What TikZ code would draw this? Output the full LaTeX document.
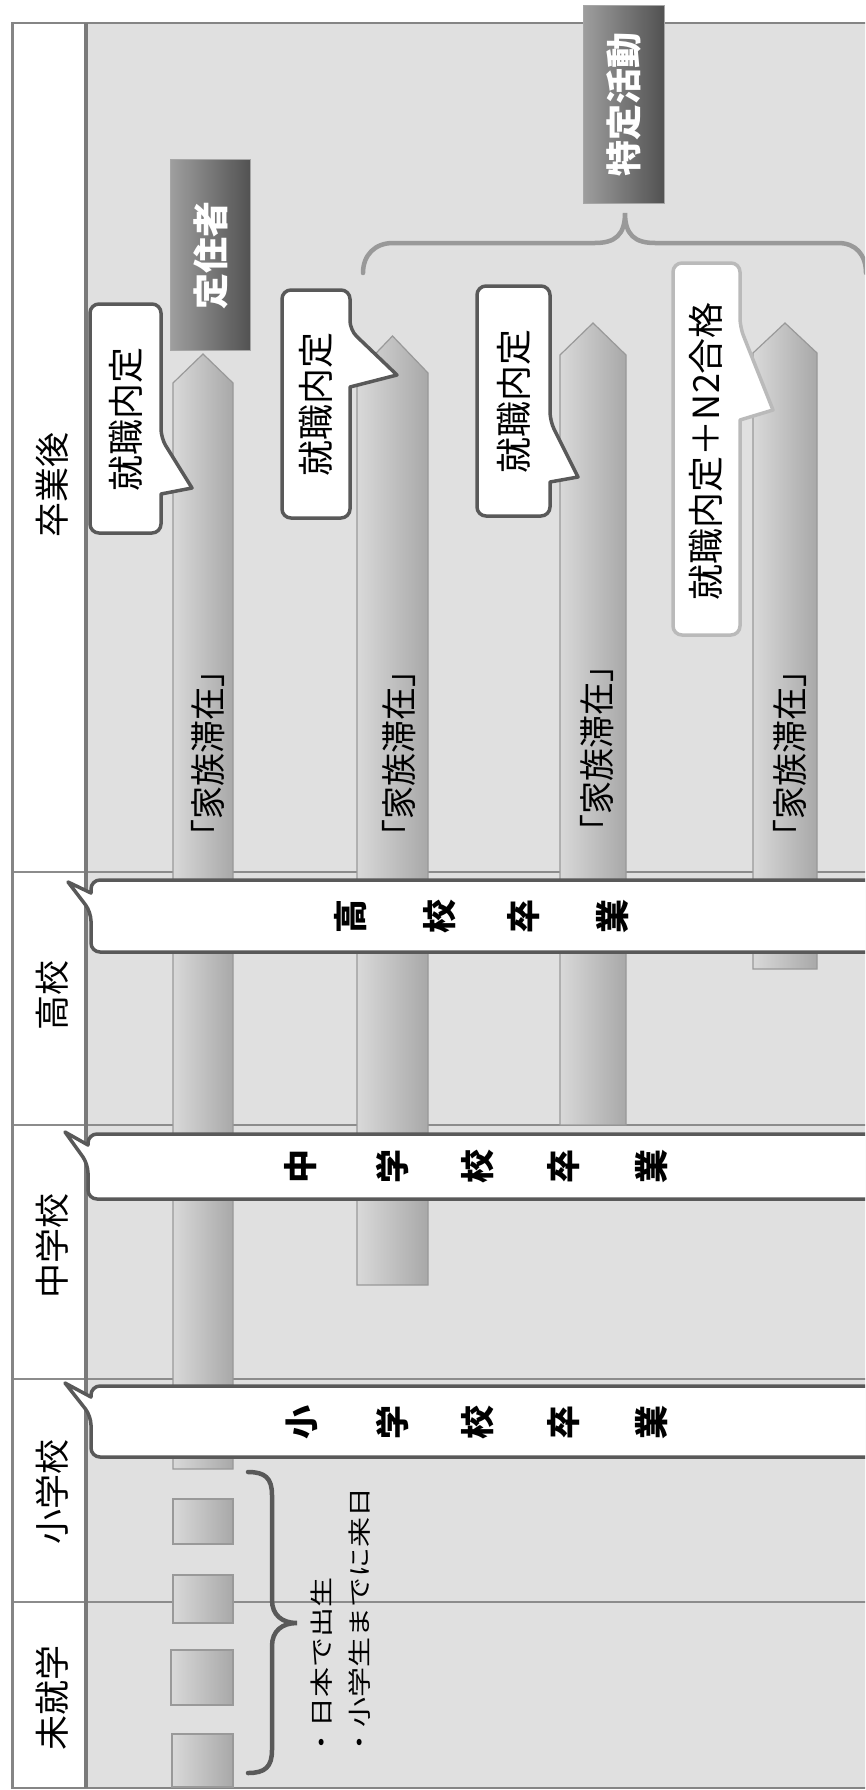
\documentclass[tikz,border=0pt]{standalone}
\usepackage{fontspec}
\newfontfamily\jp{Noto Sans CJK JP}
\begin{document}
\begin{tikzpicture}[x=1pt,y=-1pt,
  rowline/.style={draw=black!45, line width=2pt},
  frameline/.style={draw=black!48, line width=2.5pt},
  sepline/.style={draw=black!52, line width=3.5pt},
  bar/.style={draw=black!40, line width=1.2pt, left color=black!15, middle color=black!11, right color=black!34},
  callout/.style={draw=black!65, line width=3.5pt, fill=white, line join=round},
  callout4/.style={draw=black!27, line width=3.5pt, fill=white, line join=round},
  darkbox/.style={draw=black!35, line width=1pt, left color=black!38, right color=black!68},
  bigbrace/.style={draw=black!40, line width=4.5pt, line cap=round},
  smallbrace/.style={draw=black!65, line width=4.5pt, line cap=round},
  headtxt/.style={rotate=90, inner sep=0pt, font=\jp\fontsize{35pt}{40pt}\selectfont},
  stay/.style={rotate=90, inner sep=0pt, font=\jp\fontsize{33pt}{38pt}\selectfont},
  jobtxt/.style={rotate=90, inner sep=0pt, font=\jp\fontsize{36pt}{40pt}\selectfont},
  wtxt/.style={rotate=90, inner sep=0pt, text=white, font=\jp\bfseries\fontsize{36pt}{40pt}\selectfont},
  gradtxt/.style={rotate=90, inner sep=0pt, font=\jp\bfseries\fontsize{34pt}{38pt}\selectfont},
  notetxt/.style={rotate=90, inner sep=0pt, align=left, font=\jp\fontsize{30pt}{38pt}\selectfont}
]
\useasboundingbox (0,0) rectangle (865,1790);
\clip (0,0) rectangle (865,1790);
% backgrounds
\fill[white] (0,0) rectangle (865,1790);
\fill[black!12] (86,23) rectangle (870,1788);
% row lines
\foreach \yy in {872,1125,1379,1602} {\draw[rowline] (12,\yy) -- (870,\yy);}
% frame
\draw[frameline] (870,23) -- (12.5,23) -- (12.5,1788) -- (870,1788);
\draw[sepline] (86,23) -- (86,1788);
% bars
\path[bar] (173,1469) -- (173,383) -- (203,354) -- (233,383) -- (233,1469) -- cycle;
\path[bar] (357,1285) -- (357,373) -- (392.5,336) -- (428,373) -- (428,1285) -- cycle;
\path[bar] (560,1125) -- (560,355) -- (593,323) -- (626,355) -- (626,1125) -- cycle;
\path[bar] (753,969) -- (753,353) -- (785,323) -- (817,353) -- (817,969) -- cycle;
% squares
\path[bar] (173,1499) rectangle (233,1544);
\path[bar] (173,1575) rectangle (233,1623);
\path[bar] (171,1650) rectangle (233,1705);
\path[bar] (172,1734) rectangle (233,1787);
% school callouts
\path[callout] (400,880) [rounded corners=9pt] -- (885,880) -- (885,952) -- (91,952) -- (91,912) [sharp corners] -- (68,882) -- (91,893) [rounded corners=9pt] -- (91,880) -- cycle;
\path[callout] (400,1134) [rounded corners=9pt] -- (885,1134) -- (885,1199) -- (88,1199) -- (88,1164) [sharp corners] -- (65,1132) -- (88,1145) [rounded corners=9pt] -- (88,1134) -- cycle;
\path[callout] (400,1386) [rounded corners=9pt] -- (885,1386) -- (885,1457) -- (91,1457) -- (91,1416) [sharp corners] -- (65,1383) -- (91,1397) [rounded corners=9pt] -- (91,1386) -- cycle;
% job callouts
\path[callout] (90,400) [rounded corners=9pt] -- (90,304) -- (161,304) -- (161,438) [sharp corners] -- (192,488) -- (161,494) [rounded corners=9pt] -- (161,533) -- (90,533) -- cycle;
\path[callout] (282,400) [rounded corners=9pt] -- (282,290) -- (350,290) -- (350,330) [sharp corners] -- (397,375) -- (350,387) [rounded corners=9pt] -- (350,518) -- (282,518) -- cycle;
\path[callout] (477,400) [rounded corners=9pt] -- (477,286) -- (550,286) -- (550,421) [sharp corners] -- (578,477) -- (550,482) [rounded corners=9pt] -- (550,516) -- (477,516) -- cycle;
\path[callout4] (673,450) [rounded corners=9pt] -- (673,263) -- (740,263) -- (740,327) [sharp corners] -- (773,410) -- (740,420) [rounded corners=9pt] -- (740,635) -- (673,635) -- cycle;
% dark boxes
\path[darkbox] (170.7,160) rectangle (250.7,350);
\path[darkbox] (583,6) rectangle (664,204);
% braces
\draw[bigbrace] (363,273) .. controls (363,255) and (375,243) .. (393,243) -- (595,243) .. controls (615,243) and (625,235) .. (625,213) .. controls (625,235) and (635,243) .. (655,243) -- (838,243) .. controls (856,243) and (866,255) .. (866,273);
\draw[smallbrace] (248,1472) .. controls (265,1472) and (272,1478) .. (272,1495) -- (272,1600) .. controls (272,1615) and (282,1623) .. (297,1623) .. controls (282,1623) and (272,1631) .. (272,1646) -- (272,1750) .. controls (272,1767) and (265,1773) .. (248,1773);
% header texts
\node[headtxt] (h1) at (52,485) {卒業後};
\node[headtxt] (h2) at (52,995) {高校};
\node[headtxt] (h3) at (52,1246) {中学校};
\node[headtxt] (h4) at (52,1492) {小学校};
\node[headtxt] (h5) at (52,1698) {未就学};
% stay labels
\node[stay] (s1) at (208,753) {\scalebox{1}[1.08]{「家族滞在」}};
\node[stay] (s2) at (399,753) {\scalebox{1}[1.08]{「家族滞在」}};
\node[stay] (s3) at (597,748) {\scalebox{1}[1.08]{「家族滞在」}};
\node[stay] (s4) at (790,753) {\scalebox{1}[1.08]{「家族滞在」}};
% job texts
\node[jobtxt] (j1) at (125.5,419) {就職内定};
\node[jobtxt] (j2) at (316,404) {就職内定};
\node[jobtxt] (j3) at (513.5,401) {就職内定};
\node[jobtxt] (j4) at (706,451) {就職内定＋N2合格};
% dark box texts
\node[wtxt] (t1) at (210.7,255) {定住者};
\node[wtxt] (t2) at (623.5,105) {特定活動};
% graduation texts
\foreach \c/\xx [count=\i] in {高/351,校/440,卒/524,業/613} {\node[gradtxt] (gk\i) at (\xx,916) {\c};}
\foreach \c/\xx [count=\i] in {中/301,学/392,校/478,卒/564,業/652} {\node[gradtxt] (gc\i) at (\xx,1166) {\c};}
\foreach \c/\xx [count=\i] in {小/302,学/392,校/478,卒/564,業/652} {\node[gradtxt] (gs\i) at (\xx,1422) {\c};}
% note
\node[notetxt, anchor=west] (note) at (341,1758) {\scalebox{1}[0.78]{・日本で出生}\\\scalebox{1}[0.78]{・小学生までに来日}};
\end{tikzpicture}
\end{document}
